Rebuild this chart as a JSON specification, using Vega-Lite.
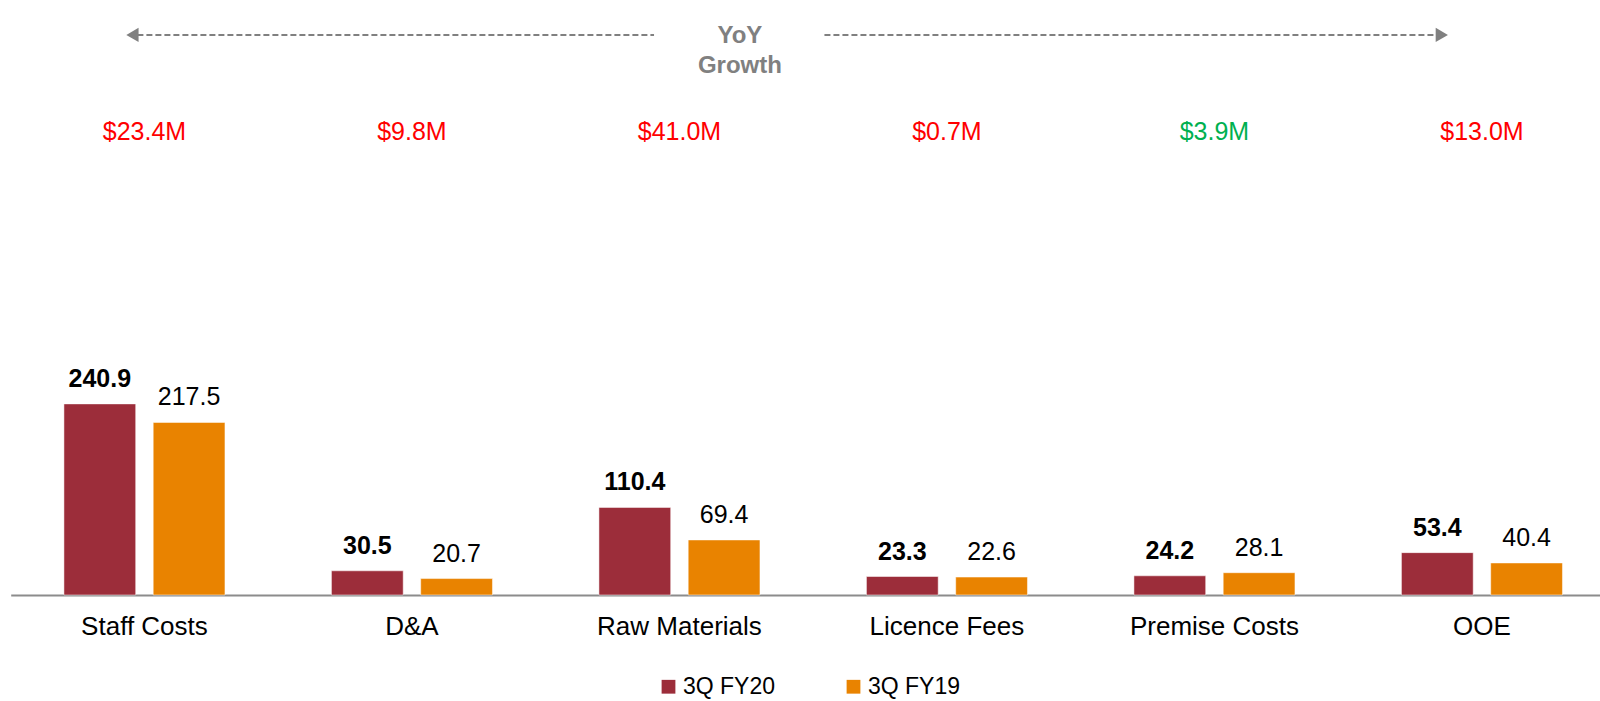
{
  "$schema": "https://vega.github.io/schema/vega-lite/v6.json",
  "width": 1600,
  "height": 595,
  "autosize": {"type": "none"},
  "padding": {"left": 0, "right": 0, "top": 0, "bottom": 106},
  "background": "white",
  "config": {
    "view": {"stroke": null},
    "font": "Liberation Sans, Arial, sans-serif",
    "text": {"font": "Liberation Sans, Arial, sans-serif"}
  },
  "datasets": {
    "bars": [
      {"category": "Staff Costs", "series": "3Q FY20", "value": 240.9},
      {"category": "Staff Costs", "series": "3Q FY19", "value": 217.5},
      {"category": "D&A", "series": "3Q FY20", "value": 30.5},
      {"category": "D&A", "series": "3Q FY19", "value": 20.7},
      {"category": "Raw Materials", "series": "3Q FY20", "value": 110.4},
      {"category": "Raw Materials", "series": "3Q FY19", "value": 69.4},
      {"category": "Licence Fees", "series": "3Q FY20", "value": 23.3},
      {"category": "Licence Fees", "series": "3Q FY19", "value": 22.6},
      {"category": "Premise Costs", "series": "3Q FY20", "value": 24.2},
      {"category": "Premise Costs", "series": "3Q FY19", "value": 28.1},
      {"category": "OOE", "series": "3Q FY20", "value": 53.4},
      {"category": "OOE", "series": "3Q FY19", "value": 40.4}
    ],
    "growth": [
      {"category": "Staff Costs", "growth": "$23.4M", "change": "increase"},
      {"category": "D&A", "growth": "$9.8M", "change": "increase"},
      {"category": "Raw Materials", "growth": "$41.0M", "change": "increase"},
      {"category": "Licence Fees", "growth": "$0.7M", "change": "increase"},
      {"category": "Premise Costs", "growth": "$3.9M", "change": "decrease"},
      {"category": "OOE", "growth": "$13.0M", "change": "increase"}
    ],
    "note": [{"note": "YoY\nGrowth"}]
  },
  "resolve": {"scale": {"x": "independent", "color": "independent"}},
  "layer": [
    {
      "data": {"name": "bars"},
      "encoding": {
        "x": {
          "field": "category",
          "type": "nominal",
          "scale": {
            "domain": ["Staff Costs", "D&A", "Raw Materials", "Licence Fees", "Premise Costs", "OOE"],
            "range": [10.7, 1615.7],
            "paddingInner": 0.398,
            "paddingOuter": 0.199
          },
          "axis": {
            "title": null,
            "labelAngle": 0,
            "labelFontSize": 26,
            "labelColor": "#000000",
            "labelFont": "Liberation Sans, Arial, sans-serif",
            "labelPadding": 18,
            "ticks": false,
            "domainColor": "#8c8c8c",
            "domainWidth": 2,
            "grid": false
          }
        },
        "xOffset": {
          "field": "series",
          "type": "nominal",
          "scale": {"domain": ["3Q FY20", "3Q FY19"], "paddingInner": 0.196, "paddingOuter": 0}
        },
        "y": {
          "field": "value",
          "type": "quantitative",
          "scale": {"domain": [0, 750], "nice": false, "zero": true},
          "axis": null
        }
      },
      "layer": [
        {
          "mark": {"type": "bar", "stroke": "white", "strokeWidth": 0.5},
          "encoding": {
            "color": {
              "field": "series",
              "type": "nominal",
              "scale": {"domain": ["3Q FY20", "3Q FY19"], "range": ["#9C2D3A", "#E98300"]},
              "legend": {
                "title": null,
                "orient": "none",
                "legendX": 657,
                "legendY": 675,
                "direction": "horizontal",
                "symbolType": "square",
                "symbolSize": 190,
                "symbolStrokeWidth": 0,
                "labelFontSize": 23,
                "labelColor": "#000000",
                "labelFont": "Liberation Sans, Arial, sans-serif",
                "labelOffset": 3,
                "columnPadding": 66
              }
            }
          }
        },
        {
          "transform": [{"filter": "datum.series === '3Q FY20'"}],
          "mark": {"type": "text", "fontSize": 25, "fontWeight": "bold", "baseline": "alphabetic", "dy": -17, "color": "#000000"},
          "encoding": {"text": {"field": "value", "type": "quantitative", "format": ".1f"}}
        },
        {
          "transform": [{"filter": "datum.series === '3Q FY19'"}],
          "mark": {"type": "text", "fontSize": 25, "fontWeight": "normal", "baseline": "alphabetic", "dy": -17, "color": "#000000"},
          "encoding": {"text": {"field": "value", "type": "quantitative", "format": ".1f"}}
        }
      ]
    },
    {
      "data": {"name": "growth"},
      "mark": {"type": "text", "fontSize": 25, "baseline": "middle"},
      "encoding": {
        "x": {
          "field": "category",
          "type": "nominal",
          "scale": {
            "domain": ["Staff Costs", "D&A", "Raw Materials", "Licence Fees", "Premise Costs", "OOE"],
            "range": [10.7, 1615.7],
            "paddingInner": 0.398,
            "paddingOuter": 0.199
          },
          "axis": null
        },
        "y": {"datum": 584, "type": "quantitative", "scale": {"domain": [0, 750], "nice": false}},
        "text": {"field": "growth"},
        "color": {
          "field": "change",
          "type": "nominal",
          "scale": {"domain": ["increase", "decrease"], "range": ["#FF0000", "#00B050"]},
          "legend": null
        }
      }
    },
    {
      "data": {"name": "note"},
      "layer": [
        {
          "mark": {"type": "rule", "color": "#808080", "strokeWidth": 2, "strokeDash": [6, 3]},
          "encoding": {
            "x": {"datum": 0.44, "type": "quantitative", "scale": {"domain": [0, 6], "range": [10.7, 1615.7], "nice": false, "zero": false}, "axis": null},
            "x2": {"datum": 2.405},
            "y": {"datum": 706, "type": "quantitative", "scale": {"domain": [0, 750], "nice": false}}
          }
        },
        {
          "mark": {"type": "rule", "color": "#808080", "strokeWidth": 2, "strokeDash": [6, 3]},
          "encoding": {
            "x": {"datum": 3.042, "type": "quantitative", "scale": {"domain": [0, 6], "range": [10.7, 1615.7], "nice": false, "zero": false}, "axis": null},
            "x2": {"datum": 5.36},
            "y": {"datum": 706, "type": "quantitative", "scale": {"domain": [0, 750], "nice": false}}
          }
        },
        {
          "mark": {"type": "point", "shape": "triangle-left", "filled": true, "color": "#808080", "size": 200, "opacity": 1},
          "encoding": {
            "x": {"datum": 0.455, "type": "quantitative", "scale": {"domain": [0, 6], "range": [10.7, 1615.7], "nice": false, "zero": false}, "axis": null},
            "y": {"datum": 706, "type": "quantitative", "scale": {"domain": [0, 750], "nice": false}}
          }
        },
        {
          "mark": {"type": "point", "shape": "triangle-right", "filled": true, "color": "#808080", "size": 200, "opacity": 1},
          "encoding": {
            "x": {"datum": 5.35, "type": "quantitative", "scale": {"domain": [0, 6], "range": [10.7, 1615.7], "nice": false, "zero": false}, "axis": null},
            "y": {"datum": 706, "type": "quantitative", "scale": {"domain": [0, 750], "nice": false}}
          }
        },
        {
          "mark": {"type": "text", "fontSize": 24, "fontWeight": "bold", "color": "#808080", "baseline": "middle", "lineBreak": "\n", "lineHeight": 30},
          "encoding": {
            "x": {"datum": 2.726, "type": "quantitative", "scale": {"domain": [0, 6], "range": [10.7, 1615.7], "nice": false, "zero": false}, "axis": null},
            "y": {"datum": 705, "type": "quantitative", "scale": {"domain": [0, 750], "nice": false}},
            "text": {"field": "note"}
          }
        }
      ]
    }
  ]
}
